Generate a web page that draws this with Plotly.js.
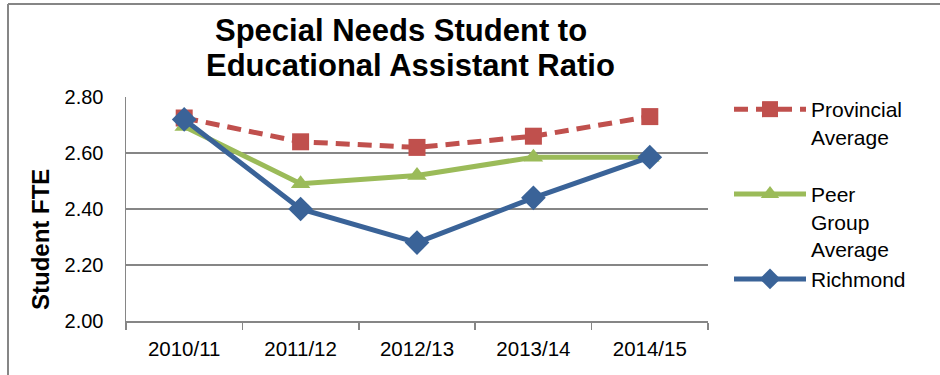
<!DOCTYPE html>
<html>
<head>
<meta charset="utf-8">
<script src="https://cdn.plot.ly/plotly-3.0.1.min.js"></script>
<style>html,body{margin:0;padding:0;background:#fff;}#chart{width:940px;height:375px;}</style>
</head>
<body>
<div id="chart"></div>
<script>
const categories = ["2010/11", "2011/12", "2012/13", "2013/14", "2014/15"];
const provincial = [2.725, 2.64, 2.62, 2.66, 2.73];
const peerGroup = [2.695, 2.49, 2.52, 2.585, 2.585];
const richmond = [2.72, 2.40, 2.28, 2.44, 2.585];
const seriesNames = ["Provincial<br>Average<br>\u00a0", "Peer<br>Group<br>Average", "Richmond"];
const titleLines = ["Special Needs Student to", "Educational Assistant Ratio"];
const yTitle = "Student FTE";
const yTicks = [2.00, 2.20, 2.40, 2.60, 2.80];

const W = 940, H = 375;
const m = {l: 126, r: 232, t: 97, b: 54};
const pw = W - m.l - m.r, ph = H - m.t - m.b;
const px = x => (x - m.l) / pw;
const py = y => (H - m.b - y) / ph;
const font = "Liberation Sans, Arial, sans-serif";

const traces = [
  {x: categories, y: provincial, name: seriesNames[0], type: "scatter", mode: "lines+markers",
   line: {color: "#C0504D", width: 5, dash: "14px,8px"},
   marker: {symbol: "square", size: 17, color: "#C0504D"}},
  {x: categories, y: peerGroup, name: seriesNames[1], type: "scatter", mode: "lines+markers",
   line: {color: "#9BBB59", width: 5},
   marker: {symbol: "triangle-up", size: 17, color: "#9BBB59"}},
  {x: categories, y: richmond, name: seriesNames[2], type: "scatter", mode: "lines+markers",
   line: {color: "#3A6398", width: 5},
   marker: {symbol: "diamond", size: 19, color: "#3A6398"}}
];

const layout = {
  width: W, height: H,
  margin: m,
  paper_bgcolor: "#fff", plot_bgcolor: "#fff",
  font: {family: font, color: "#000", size: 20},
  xaxis: {type: "category", range: [-0.5, 4.5], showline: true, linecolor: "#868686", linewidth: 1.5,
          ticks: "outside", tickson: "boundaries", ticklen: 7, tickcolor: "#868686", tickwidth: 1.5,
          ticklabelstandoff: 9,
          showgrid: false, tickfont: {size: 20.5, family: font}, fixedrange: true},
  yaxis: {range: [2.0, 2.8], tickvals: yTicks, tickformat: ".2f", showline: true, linecolor: "#868686", linewidth: 1.5,
          gridcolor: "#868686", gridwidth: 1.2, zeroline: false, ticks: "", ticklen: 0,
          ticklabelstandoff: 17,
          tickfont: {size: 20, family: font}, fixedrange: true},
  showlegend: true,
  legend: {x: px(729), y: py(89), xanchor: "left", yanchor: "top", valign: "top", maxheight: 320,
           itemwidth: 72, font: {size: 21, family: font}, bgcolor: "rgba(0,0,0,0)", tracegroupgap: 0},
  annotations: [
    {text: "<b>" + titleLines[0] + "</b>", xref: "paper", yref: "paper", x: px(401), y: py(31),
     xanchor: "center", yanchor: "middle", showarrow: false,
     font: {size: 31, family: font, color: "#000"}},
    {text: "<b>" + titleLines[1] + "</b>", xref: "paper", yref: "paper", x: px(410), y: py(65),
     xanchor: "center", yanchor: "middle", showarrow: false,
     font: {size: 31, family: font, color: "#000"}},
    {text: "<b>" + yTitle + "</b>", xref: "paper", yref: "paper", x: px(40), y: py(240),
     xanchor: "center", yanchor: "middle", textangle: -90, showarrow: false,
     font: {size: 24, family: font, color: "#000"}}
  ],
  shapes: [
    {type: "line", xref: "paper", yref: "paper", x0: px(8), x1: px(8), y0: py(4), y1: py(376), line: {color: "#868686", width: 2}},
    {type: "line", xref: "paper", yref: "paper", x0: px(8), x1: px(941), y0: py(4), y1: py(4), line: {color: "#868686", width: 2}}
  ]
};

Plotly.newPlot("chart", traces, layout, {displayModeBar: false, staticPlot: true});
</script>
</body>
</html>
